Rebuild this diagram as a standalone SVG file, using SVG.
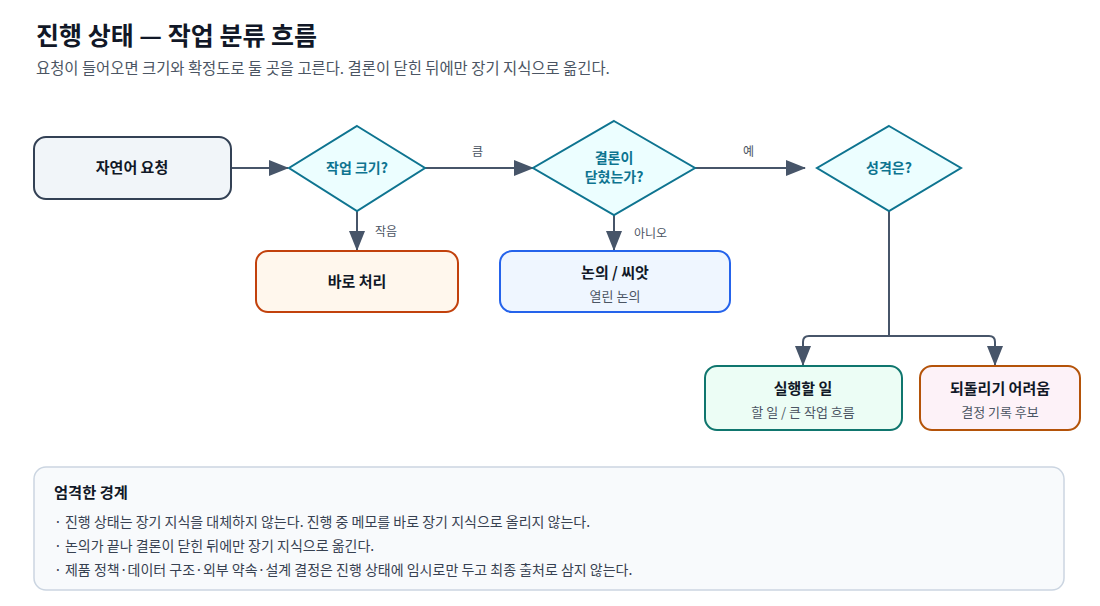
<svg xmlns="http://www.w3.org/2000/svg" width="1100" height="606" viewBox="0 0 1100 606">
<defs>
<marker id="arr" markerUnits="userSpaceOnUse" markerWidth="20" markerHeight="16" refX="19" refY="8" orient="auto">
<path d="M0,0 L20,8 L0,16 Z" fill="#475569"/>
</marker>
<style>
text{font-family:"Noto Sans CJK KR","Noto Sans",sans-serif}
.title{font-size:25px;font-weight:700;fill:#111827}
.sub{font-size:15.4px;fill:#4b5563}
.nl{font-size:15px;font-weight:700;fill:#111827;text-anchor:middle}
.ns{font-size:13px;fill:#4b5563;text-anchor:middle}
.dl{font-size:14px;font-weight:700;fill:#0e7490;text-anchor:middle}
.el{font-size:12px;fill:#4b5563}
.dia{fill:#ecfeff;stroke:#0e7490;stroke-width:2}
.con{fill:none;stroke:#475569;stroke-width:2}
.bh{font-size:15.3px;font-weight:700;fill:#111827}
.bt{font-size:14px;fill:#374151}
</style>
</defs>
<rect width="1100" height="606" fill="#ffffff"/>
<text class="title" x="36" y="45">진행 상태 — 작업 분류 흐름</text>
<text class="sub" x="36" y="74">요청이 들어오면 크기와 확정도로 둘 곳을 고른다. 결론이 닫힌 뒤에만 장기 지식으로 옮긴다.</text>

<g id="connectors">
<path class="con" d="M231,168 L288,168" marker-end="url(#arr)"/>
<path class="con" d="M425,168 L533,168" marker-end="url(#arr)"/>
<path class="con" d="M695,168 L805,168" marker-end="url(#arr)"/>
<path class="con" d="M357,211 L357,250" marker-end="url(#arr)"/>
<path class="con" d="M614,215 L614,250" marker-end="url(#arr)"/>
<path class="con" d="M889,211 L889,336"/>
<path class="con" d="M889,336 L809,336 Q803,336 803,342 L803,365" marker-end="url(#arr)"/>
<path class="con" d="M889,336 L989,336 Q995,336 995,342 L995,365" marker-end="url(#arr)"/>
<text class="el" x="472" y="156">큼</text>
<text class="el" x="743" y="156">예</text>
<text class="el" x="375" y="236">작음</text>
<text class="el" x="634" y="238">아니오</text>
</g>

<g id="n-request">
<rect x="34" y="137" width="197" height="62" rx="12" fill="#f1f5f9" stroke="#334155" stroke-width="2"/>
<text class="nl" x="132" y="173">자연어 요청</text>
</g>
<g id="d-size">
<polygon class="dia" points="357,126 425,168 357,211 289,168"/>
<text class="dl" x="357" y="173">작업 크기?</text>
</g>
<g id="d-closed">
<polygon class="dia" points="614,121 695,168 614,215 533,168"/>
<text class="dl" x="614" y="163">결론이</text>
<text class="dl" x="614" y="182">닫혔는가?</text>
</g>
<g id="d-nature">
<polygon class="dia" points="889,126 961,168 889,211 817,168"/>
<text class="dl" x="889" y="173">성격은?</text>
</g>
<g id="n-direct">
<rect x="256" y="251" width="202" height="61" rx="12" fill="#fff7ed" stroke="#c2410c" stroke-width="2"/>
<text class="nl" x="357" y="287">바로 처리</text>
</g>
<g id="n-discussion">
<rect x="500" y="251" width="230" height="61" rx="12" fill="#eff6ff" stroke="#2563eb" stroke-width="2"/>
<text class="nl" x="615" y="278">논의 / 씨앗</text>
<text class="ns" x="615" y="301">열린 논의</text>
</g>
<g id="n-task">
<rect x="705" y="366" width="197" height="64" rx="12" fill="#ecfdf5" stroke="#0f766e" stroke-width="2"/>
<text class="nl" x="803" y="394">실행할 일</text>
<text class="ns" x="803" y="417">할 일 / 큰 작업 흐름</text>
</g>
<g id="n-irreversible">
<rect x="920" y="366" width="160" height="64" rx="12" fill="#fdf2f8" stroke="#b45309" stroke-width="2"/>
<text class="nl" x="1000" y="394">되돌리기 어려움</text>
<text class="ns" x="1000" y="417">결정 기록 후보</text>
</g>

<g id="boundary">
<rect x="34" y="467" width="1030" height="123" rx="12" fill="#f8fafc" stroke="#cbd5e1" stroke-width="1.5"/>
<text class="bh" x="54" y="498">엄격한 경계</text>
<text class="bt" x="54" y="527">· 진행 상태는 장기 지식을 대체하지 않는다. 진행 중 메모를 바로 장기 지식으로 올리지 않는다.</text>
<text class="bt" x="54" y="551">· 논의가 끝나 결론이 닫힌 뒤에만 장기 지식으로 옮긴다.</text>
<text class="bt" x="54" y="575">· 제품 정책·데이터 구조·외부 약속·설계 결정은 진행 상태에 임시로만 두고 최종 출처로 삼지 않는다.</text>
</g>
</svg>
